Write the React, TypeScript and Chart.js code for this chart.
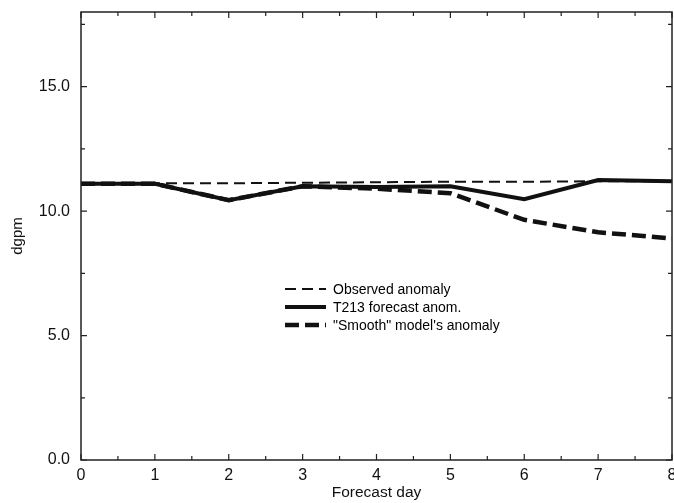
import React, { useEffect, useRef } from "react";
import { Chart, registerables } from "chart.js";

Chart.register(...registerables);

const forecastDays = [0, 1, 2, 3, 4, 5, 6, 7, 8];
const observedAnomaly = [11.12, 11.12, 11.12, 11.14, 11.16, 11.18, 11.18, 11.2, 11.2];
const t213Anomaly = [11.1, 11.1, 10.44, 11.0, 10.97, 11.0, 10.48, 11.25, 11.2];
const smoothAnomaly = [11.1, 11.1, 10.44, 11.0, 10.9, 10.72, 9.65, 9.15, 8.9];
const seriesLabels = ["Observed anomaly", "T213 forecast anom.", "\"Smooth\" model's anomaly"];
const yTickValues = [0, 5, 10, 15];
const xTickValues = [0, 1, 2, 3, 4, 5, 6, 7, 8];

const FONT = "'Liberation Sans', Arial, Helvetica, sans-serif";

const framePlugin = {
  id: "frameTicks",
  afterDraw(chart: any) {
    const { ctx, chartArea, scales } = chart;
    const { left, right, top, bottom } = chartArea;
    const x = scales.x;
    const y = scales.y;
    ctx.save();
    ctx.strokeStyle = "#222";
    ctx.lineWidth = 1.5;
    ctx.strokeRect(left, top, right - left, bottom - top);
    ctx.lineWidth = 1.2;
    ctx.beginPath();
    for (let v = 0; v <= 8.001; v += 0.5) {
      const px = x.getPixelForValue(v);
      const len = Math.abs(v - Math.round(v)) < 1e-6 ? 6 : 4;
      ctx.moveTo(px, bottom);
      ctx.lineTo(px, bottom - len);
      ctx.moveTo(px, top);
      ctx.lineTo(px, top + len);
    }
    for (let v = 0; v <= 17.5 + 0.001; v += 2.5) {
      const py = y.getPixelForValue(v);
      const len = Math.abs(v / 5 - Math.round(v / 5)) < 1e-6 ? 6 : 4;
      ctx.moveTo(left, py);
      ctx.lineTo(left + len, py);
      ctx.moveTo(right, py);
      ctx.lineTo(right - len, py);
    }
    ctx.stroke();

    // legend inside plot
    const lx0 = left + 204;
    const lx1 = left + 245;
    const tx = left + 252;
    const rows = [top + 277, top + 295, top + 313];
    ctx.font = `14px ${FONT}`;
    ctx.textBaseline = "middle";
    ctx.fillStyle = "#000";
    chart.data.datasets.forEach((ds: any, i: number) => {
      ctx.beginPath();
      ctx.strokeStyle = ds.borderColor;
      ctx.lineWidth = ds.borderWidth;
      ctx.setLineDash(ds.borderDash || []);
      ctx.moveTo(lx0, rows[i]);
      ctx.lineTo(lx1, rows[i]);
      ctx.stroke();
      ctx.setLineDash([]);
      ctx.fillText(ds.label, tx, rows[i] + 1);
    });
    ctx.restore();
  },
};

export default function App() {
  const canvasRef = useRef<HTMLCanvasElement | null>(null);

  useEffect(() => {
    if (!canvasRef.current) return;
    const chart = new Chart(canvasRef.current, {
      type: "line",
      data: {
        datasets: [
          {
            label: seriesLabels[0],
            data: forecastDays.map((d, i) => ({ x: d, y: observedAnomaly[i] })),
            borderColor: "#111",
            borderWidth: 2,
            borderDash: [11, 6],
            pointRadius: 0,
            tension: 0,
            order: 3,
          },
          {
            label: seriesLabels[1],
            data: forecastDays.map((d, i) => ({ x: d, y: t213Anomaly[i] })),
            borderColor: "#111",
            borderWidth: 4,
            pointRadius: 0,
            tension: 0,
            order: 1,
          },
          {
            label: seriesLabels[2],
            data: forecastDays.map((d, i) => ({ x: d, y: smoothAnomaly[i] })),
            borderColor: "#111",
            borderWidth: 4.5,
            borderDash: [14, 6],
            pointRadius: 0,
            tension: 0,
            order: 2,
          },
        ],
      },
      options: {
        animation: false,
        responsive: false,
        maintainAspectRatio: false,
        layout: { padding: { top: 12, right: 2, left: 0, bottom: 0 } },
        plugins: { legend: { display: false }, tooltip: { enabled: false } },
        scales: {
          x: {
            type: "linear",
            min: 0,
            max: 8,
            afterFit: (s: any) => {
              s.height = 43;
              s.paddingLeft = 0;
              s.paddingRight = 0;
            },
            afterBuildTicks: (s: any) => {
              s.ticks = xTickValues.map((v) => ({ value: v }));
            },
            grid: { display: true, drawOnChartArea: false, drawTicks: false },
            border: { display: false },
            ticks: {
              color: "#111",
              font: { family: FONT, size: 16 },
              padding: 6,
              maxRotation: 0,
              autoSkip: false,
              callback: (v: any) => String(v),
            },
            title: {
              display: true,
              text: "Forecast day",
              color: "#111",
              font: { family: FONT, size: 15.5 },
              padding: { top: 0, bottom: 1 },
            },
          },
          y: {
            type: "linear",
            min: 0,
            max: 18,
            afterFit: (s: any) => {
              s.width = 81;
              s.paddingTop = 0;
              s.paddingBottom = 0;
            },
            afterBuildTicks: (s: any) => {
              s.ticks = yTickValues.map((v) => ({ value: v }));
            },
            grid: { display: true, drawOnChartArea: false, drawTicks: false },
            border: { display: false },
            ticks: {
              color: "#111",
              font: { family: FONT, size: 16 },
              padding: 11,
              autoSkip: false,
              callback: (v: any) => Number(v).toFixed(1),
            },
            title: {
              display: true,
              text: "dgpm",
              color: "#111",
              font: { family: FONT, size: 15 },
              padding: { top: 9, bottom: 0 },
            },
          },
        },
      },
      plugins: [framePlugin],
    });
    return () => chart.destroy();
  }, []);

  return (
    <div style={{ position: "fixed", left: 0, top: 0, width: 674, height: 503, background: "#fff" }}>
      <canvas ref={canvasRef} width={674} height={503} style={{ width: 674, height: 503 }} />
    </div>
  );
}
